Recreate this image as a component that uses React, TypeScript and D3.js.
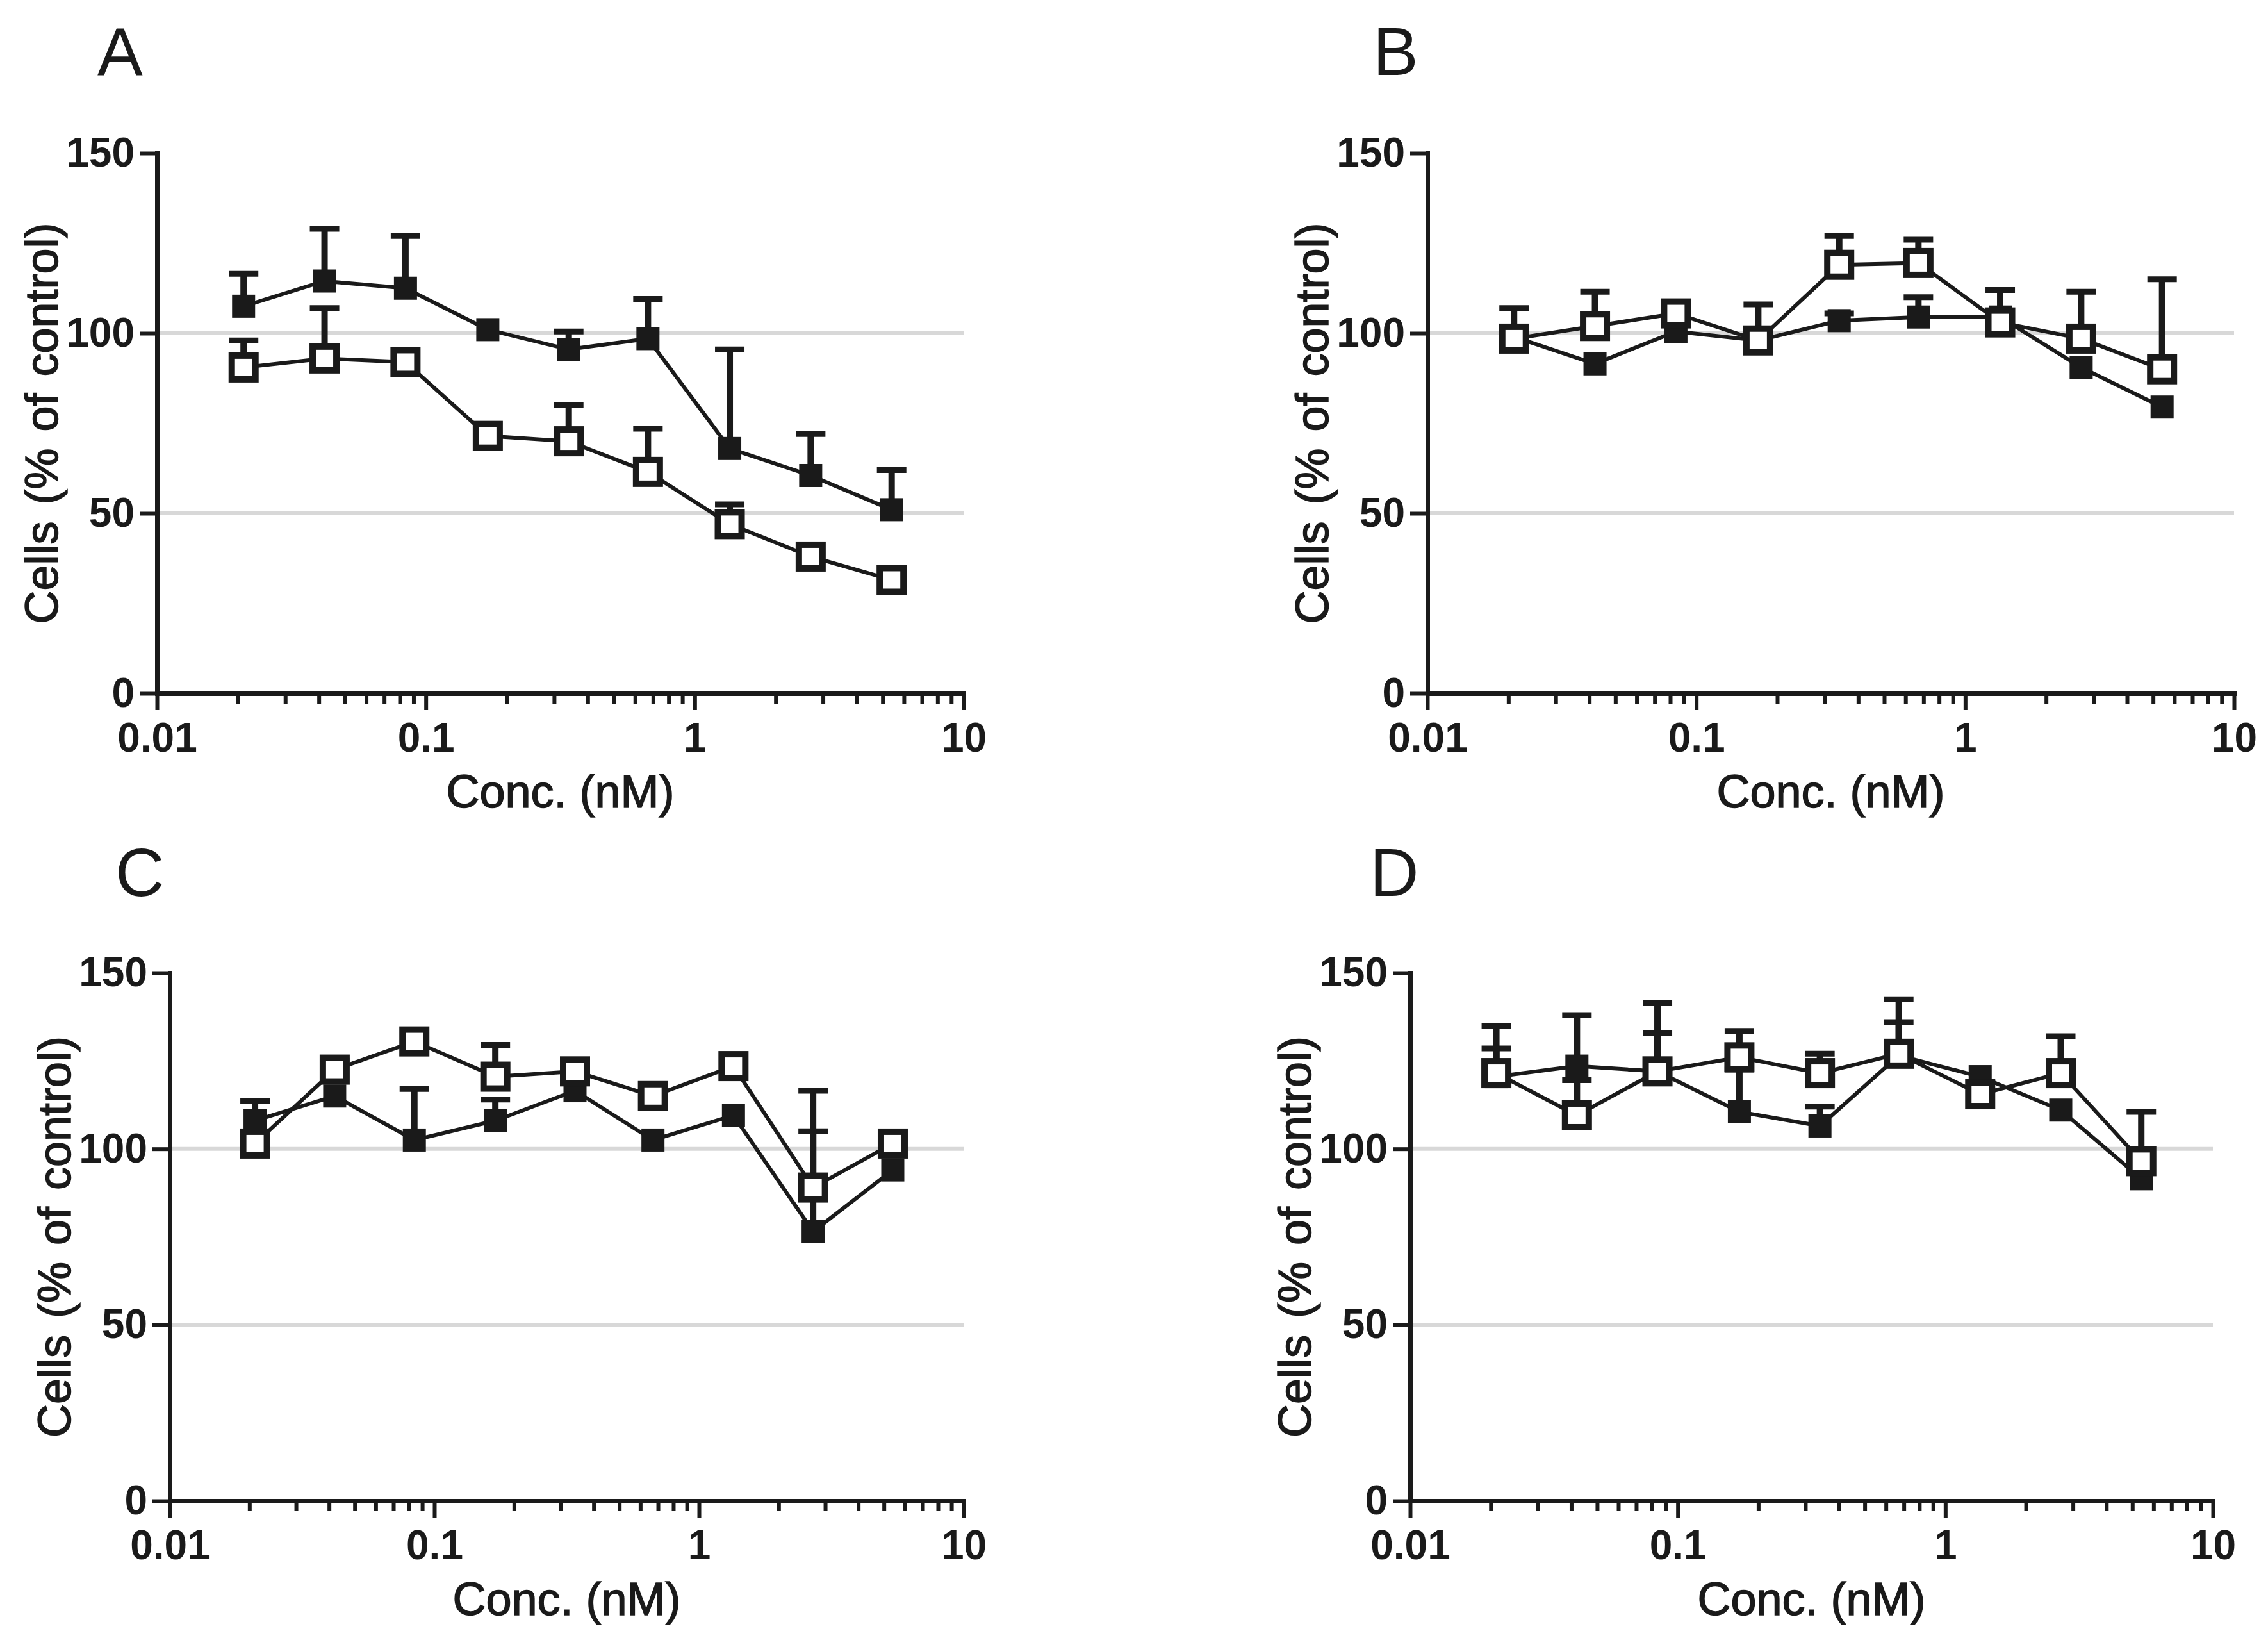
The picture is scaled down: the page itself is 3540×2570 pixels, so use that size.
import { useEffect, useRef } from "react";
import * as d3 from "d3";

// ── Data ───────────────────────────────────────────────────────────────────────
const conc = [0.021, 0.042, 0.084, 0.17, 0.34, 0.67, 1.35, 2.7, 5.4];
const yTickValues = [0, 50, 100, 150];
const xMajorTicks = [0.01, 0.1, 1, 10];
const xTickLabels = ["0.01", "0.1", "1", "10"];
const gridValues = [50, 100];
const panelLetters = ["A", "B", "C", "D"];

// panel A
const aFilled = [107.5, 114.5, 112.5, 101, 95.5, 98.5, 68, 60.5, 51];
const aFilledSd = [9, 14.5, 14.5, 0, 5, 11, 27.5, 11.5, 11];
const aOpen = [90.5, 93, 92, 71.5, 70, 61.5, 47, 38, 31.5];
const aOpenSd = [7.5, 14, 0, 0, 10, 12, 5.5, 0, 0];

// panel B
const bFilled = [99, 91.5, 100.5, 98, 103.5, 104.5, 104.5, 90.5, 79.5];
const bFilledSd = [0, 0, 0, 0, 2, 5.5, 0, 0, 0];
const bOpen = [98.5, 102, 105.5, 98, 119, 119.5, 103, 98.5, 90];
const bOpenSd = [8.5, 9.5, 3, 10, 8, 6.5, 9, 13, 25];

// panel C
const cFilled = [108, 115, 102.5, 108, 116.5, 102.5, 109.5, 76.5, 94];
const cFilledSd = [5.5, 0, 14.5, 6, 0, 0, 0, 28.5, 0];
const cOpen = [101.5, 122.5, 130.5, 120.5, 122, 115, 123.5, 89, 101.5];
const cOpenSd = [0, 2.5, 0, 9, 0, 0, 0, 27.5, 0];

// panel D
const dFilled = [120.5, 123.5, 122, 110.5, 106.5, 126.5, 120.5, 111, 91.5];
const dFilledSd = [8, 14.5, 11, 12, 5.5, 9.5, 0, 0, 0];
const dOpen = [121.5, 109.5, 122, 126, 121.5, 127, 115.5, 121.5, 96.5];
const dOpenSd = [13.5, 10, 19.5, 7.5, 5.5, 15.5, 0, 10.5, 14];

const panelSeries = [
  { filled: aFilled, filledSd: aFilledSd, open: aOpen, openSd: aOpenSd },
  { filled: bFilled, filledSd: bFilledSd, open: bOpen, openSd: bOpenSd },
  { filled: cFilled, filledSd: cFilledSd, open: cOpen, openSd: cOpenSd },
  { filled: dFilled, filledSd: dFilledSd, open: dOpen, openSd: dOpenSd },
];

// ── Layout (pixels) ────────────────────────────────────────────────────────────
const layouts = [
  { left: 245, right: 1504, top: 239, bottom: 1082, lx: 152, ly: 117 },
  { left: 2228, right: 3487, top: 239, bottom: 1082, lx: 2143, ly: 117 },
  { left: 265, right: 1504, top: 1518, bottom: 2342, lx: 180, ly: 1398 },
  { left: 2201, right: 3454, top: 1518, bottom: 2342, lx: 2138, ly: 1398 },
];

const W = 3540;
const H = 2570;
const INK = "#1a1a1a";
const FONT = "'Liberation Sans', Arial, Helvetica, sans-serif";

export default function App() {
  const svgRef = useRef<SVGSVGElement>(null);

  useEffect(() => {
    if (!svgRef.current) return;
    const svg = d3.select(svgRef.current);
    svg.selectAll("*").remove();

    panelSeries.forEach((series, i) => {
      const lay = layouts[i];
      const g = svg.append("g");

      const x = d3.scaleLog().domain([0.01, 10]).range([lay.left, lay.right]);
      const y = d3.scaleLinear().domain([0, 150]).range([lay.bottom, lay.top]);

      // ── Grid lines ───────────────────────────────────────────────────────────
      g.append("g")
        .selectAll("line")
        .data(gridValues)
        .enter()
        .append("line")
        .attr("x1", lay.left)
        .attr("x2", lay.right)
        .attr("y1", (d) => y(d))
        .attr("y2", (d) => y(d))
        .attr("stroke", "#d8d8d8")
        .attr("stroke-width", 6);

      // ── Series ───────────────────────────────────────────────────────────────
      const drawSeries = (vals: number[], sds: number[], open: boolean) => {
        const pts = conc.map((c, k) => ({ c, v: vals[k], sd: sds[k] }));
        const line = d3
          .line<{ c: number; v: number }>()
          .x((d) => x(d.c))
          .y((d) => y(d.v));

        g.append("path")
          .datum(pts)
          .attr("d", line)
          .attr("fill", "none")
          .attr("stroke", INK)
          .attr("stroke-width", 6);

        const bars = g
          .append("g")
          .selectAll("g")
          .data(pts.filter((d) => d.sd > 0))
          .enter()
          .append("g");
        bars
          .append("line")
          .attr("x1", (d) => x(d.c))
          .attr("x2", (d) => x(d.c))
          .attr("y1", (d) => y(d.v))
          .attr("y2", (d) => y(d.v + d.sd))
          .attr("stroke", INK)
          .attr("stroke-width", 10);
        bars
          .append("line")
          .attr("x1", (d) => x(d.c) - 23)
          .attr("x2", (d) => x(d.c) + 23)
          .attr("y1", (d) => y(d.v + d.sd))
          .attr("y2", (d) => y(d.v + d.sd))
          .attr("stroke", INK)
          .attr("stroke-width", 9);

        const size = open ? 37 : 36;
        g.append("g")
          .selectAll("rect")
          .data(pts)
          .enter()
          .append("rect")
          .attr("x", (d) => x(d.c) - size / 2)
          .attr("y", (d) => y(d.v) - size / 2)
          .attr("width", size)
          .attr("height", size)
          .attr("fill", open ? "#ffffff" : INK)
          .attr("stroke", open ? INK : "none")
          .attr("stroke-width", open ? 10 : 0);
      };

      drawSeries(series.filled, series.filledSd, false);
      drawSeries(series.open, series.openSd, true);

      // ── Y axis ───────────────────────────────────────────────────────────────
      const yAxisG = g
        .append("g")
        .attr("transform", `translate(${lay.left},0)`)
        .call(
          d3
            .axisLeft(y)
            .tickValues(yTickValues)
            .tickSize(27)
            .tickSizeOuter(0)
            .tickPadding(8)
            .tickFormat(d3.format("d"))
        );
      yAxisG.select(".domain").attr("stroke", INK).attr("stroke-width", 7).attr("stroke-linecap", "square");
      yAxisG.selectAll(".tick line").attr("stroke", INK).attr("stroke-width", 6);
      yAxisG
        .selectAll("text")
        .attr("fill", INK)
        .attr("font-family", FONT)
        .attr("font-weight", "bold")
        .attr("font-size", 64);

      // ── X axis (minor ticks, then majors with labels) ───────────────────────
      const minorTicks = xMajorTicks
        .slice(0, 3)
        .flatMap((dec) => d3.range(2, 10).map((k) => k * dec));

      const xMinorG = g
        .append("g")
        .attr("transform", `translate(0,${lay.bottom})`)
        .call(d3.axisBottom(x).tickValues(minorTicks).tickSize(16).tickSizeOuter(0).tickFormat(() => ""));
      xMinorG.select(".domain").remove();
      xMinorG.selectAll(".tick line").attr("stroke", INK).attr("stroke-width", 6);

      const xAxisG = g
        .append("g")
        .attr("transform", `translate(0,${lay.bottom})`)
        .call(
          d3
            .axisBottom(x)
            .tickValues(xMajorTicks)
            .tickSize(26)
            .tickSizeOuter(0)
            .tickPadding(20)
            .tickFormat((_, k) => xTickLabels[k])
        );
      xAxisG.select(".domain").attr("stroke", INK).attr("stroke-width", 7).attr("stroke-linecap", "square");
      xAxisG.selectAll(".tick line").attr("stroke", INK).attr("stroke-width", 6);
      xAxisG
        .selectAll("text")
        .attr("fill", INK)
        .attr("font-family", FONT)
        .attr("font-weight", "bold")
        .attr("font-size", 64);

      // ── Titles ───────────────────────────────────────────────────────────────
      g.append("text")
        .attr("x", (lay.left + lay.right) / 2)
        .attr("y", lay.bottom + 178)
        .attr("text-anchor", "middle")
        .attr("font-family", FONT)
        .attr("font-size", 72)
        .attr("fill", INK)
        .attr("stroke", INK)
        .attr("stroke-width", 1.5)
        .text("Conc. (nM)");

      g.append("text")
        .attr(
          "transform",
          `translate(${lay.left - 155},${(lay.top + lay.bottom) / 2}) rotate(-90)`
        )
        .attr("text-anchor", "middle")
        .attr("font-family", FONT)
        .attr("font-size", 72)
        .attr("word-spacing", 6)
        .attr("fill", INK)
        .attr("stroke", INK)
        .attr("stroke-width", 1.5)
        .text("Cells (% of control)");

      // panel letter
      g.append("text")
        .attr("x", lay.lx)
        .attr("y", lay.ly)
        .attr("font-family", FONT)
        .attr("font-size", 106)
        .attr("fill", INK)
        .text(panelLetters[i]);
    });
  }, []);

  return (
    <svg
      ref={svgRef}
      width={W}
      height={H}
      viewBox={`0 0 ${W} ${H}`}
      style={{ position: "absolute", left: 0, top: 0, background: "#ffffff" }}
    />
  );
}
